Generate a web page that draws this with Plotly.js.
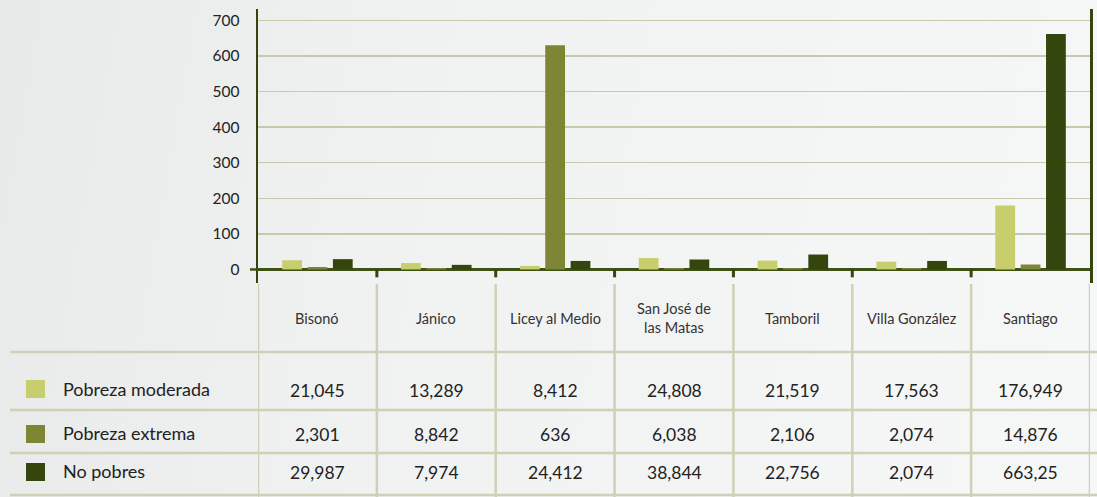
<!DOCTYPE html>
<html>
<head>
<meta charset="utf-8">
<script src="https://cdn.plot.ly/plotly-3.0.1.min.js"></script>
<style>
html,body{margin:0;padding:0;}
body{width:1097px;height:497px;background:linear-gradient(100deg,#e8e9e9 0%,#f0f1f1 35%,#f6f7f7 100%);}
#chart{width:1097px;height:497px;}
</style>
</head>
<body>
<div id="chart"></div>
<script>
// Categories and series (bar heights)
const categories = ['Bisonó','Jánico','Licey al Medio','San José de<br>las Matas','Tamboril','Villa González','Santiago'];
const seriesNames = ['Pobreza moderada','Pobreza extrema','No pobres'];
const moderada = [26, 18, 10, 32, 25, 22, 180];
const extrema  = [7, 4, 630, 4, 4, 4, 14];
const noPobres = [29, 13, 24, 28, 42, 24, 662];
// Table values as printed
const moderadaTbl = ['21,045','13,289','8,412','24,808','21,519','17,563','176,949'];
const extremaTbl  = ['2,301','8,842','636','6,038','2,106','2,074','14,876'];
const noPobresTbl = ['29,987','7,974','24,412','38,844','22,756','2,074','663,25'];
const yTicks = [0,100,200,300,400,500,600,700];

const colors = ['#c8ce6c','#7e8535','#34460d'];
const FONT = 'Lato, "Open Sans", sans-serif';
const gridCol = '#c8c9aa';
const tableCol = '#cfd0b6';

const H = 497, plotTop = 9, plotBottom = 283;
const py = p => (plotBottom - p) / (plotBottom - plotTop);

const idx = categories.map((c,i)=>i);
const traces = [moderada, extrema, noPobres].map((v,k)=>({
  type:'bar', x: idx, y: v, name: seriesNames[k],
  marker:{color: colors[k]}, hoverinfo:'skip', showlegend:false
}));

const shapes = [];
const annotations = [];
const n = categories.length;
// boundary ticks on baseline
for (let i=1;i<n;i++){
  shapes.push({type:'line', xref:'x', yref:'y', x0:i-0.5, x1:i-0.5, y0:0, y1:-22, line:{color:'#34460d', width:3}});
}
// short zero tick left of axis
shapes.push({type:'line', xref:'paper', yref:'y', x0:-8/832, x1:0, y0:0, y1:0, line:{color:'#3d5214', width:2.5}});
// table vertical lines
for (let i=0;i<=n;i++){
  shapes.push({type:'line', xref:'x', yref:'paper', x0:i-0.5, x1:i-0.5, y0:py(plotBottom+1), y1:py(H), line:{color:tableCol, width:2.5}});
}
// table horizontal lines
[352, 410, 453, 495].forEach(p=>{
  shapes.push({type:'line', xref:'paper', yref:'paper', x0:-248/832, x1:1100/832-258/832, y0:py(p), y1:py(p), line:{color:tableCol, width:2.5}});
});
// header labels
categories.forEach((c,i)=>{
  annotations.push({xref:'x', yref:'paper', x:i, y:py(318), text:c, showarrow:false, xanchor:'center', yanchor:'middle',
    font:{family:FONT, size:14.5, color:'#333'}});
});
// rows
const rows = [[moderadaTbl, 390, 389], [extremaTbl, 434, 434], [noPobresTbl, 472, 472]];
rows.forEach((r,k)=>{
  r[0].forEach((t,i)=>{
    annotations.push({xref:'x', yref:'paper', x:i, y:py(r[1]), text:t, showarrow:false, xanchor:'center', yanchor:'middle',
      font:{family:FONT, size:17.5, color:'#222'}});
  });
  // legend swatch + label
  shapes.push({type:'rect', xref:'paper', yref:'paper', x0:(26-258)/832, x1:(45-258)/832, y0:py(r[2]-9), y1:py(r[2]+9),
    fillcolor: colors[k], line:{width:0}});
  annotations.push({xref:'paper', yref:'paper', x:(61-258)/832, y:py(r[1]-1), text:seriesNames[k], showarrow:false,
    xanchor:'left', yanchor:'middle', font:{family:FONT, size:18, color:'#222'}});
});

const layout = {
  width:1097, height:497,
  margin:{l:258, r:7, t:plotTop, b:H-plotBottom, pad:0},
  paper_bgcolor:'rgba(0,0,0,0)', plot_bgcolor:'rgba(0,0,0,0)',
  barmode:'group', bargap:0.36, bargroupgap:0.22,
  xaxis:{type:'linear', range:[-0.5, n-0.5], showticklabels:false, showgrid:false, zeroline:false, showline:false, fixedrange:true},
  yaxis:{range:[-38,732], tickvals:yTicks, ticktext:yTicks.map(String), showgrid:true, gridcolor:gridCol, gridwidth:1.5,
    zeroline:true, zerolinecolor:'#3d5214', zerolinewidth:2.5,
    showline:true, linecolor:'#34460d', linewidth:2.5, mirror:true,
    ticks:'', ticklabelstandoff:13, tickfont:{family:FONT, size:15.5, color:'#222'}, fixedrange:true},
  shapes: shapes, annotations: annotations, showlegend:false
};
Plotly.newPlot('chart', traces, layout, {displayModeBar:false, staticPlot:true});
</script>
</body>
</html>
